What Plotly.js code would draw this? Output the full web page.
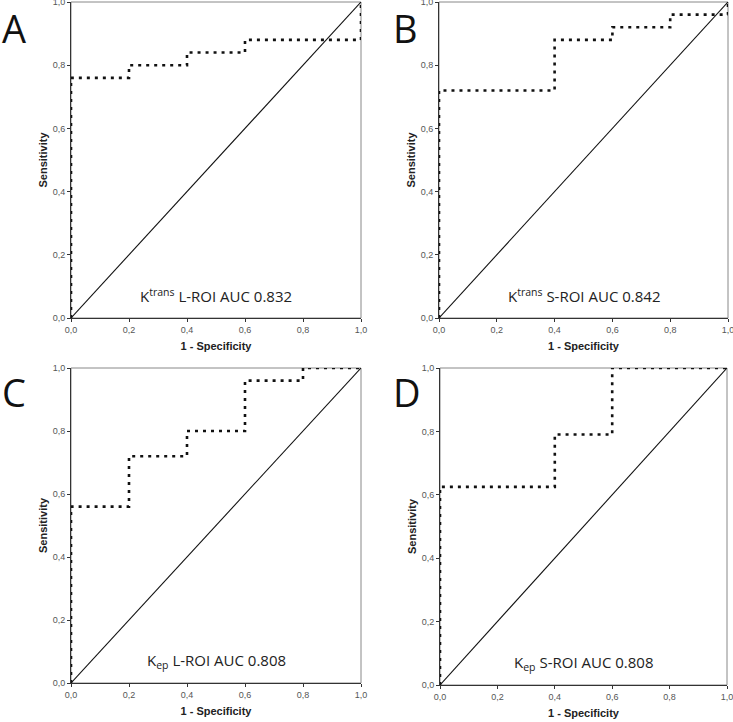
<!DOCTYPE html>
<html><head><meta charset="utf-8">
<script src="https://cdn.plot.ly/plotly-3.0.1.min.js"></script>
<style>html,body{margin:0;padding:0;background:#fff}#plot{width:733px;height:722px}</style>
</head><body><div id="plot"></div>
<script>
// ROC curve data (1 - specificity, sensitivity)
const rocA_x = [0, 0, 0.2, 0.2, 0.4, 0.4, 0.6, 0.6, 1.0, 1.0];
const rocA_y = [0, 0.76, 0.76, 0.80, 0.80, 0.84, 0.84, 0.88, 0.88, 1.0];
const rocB_x = [0, 0, 0.4, 0.4, 0.6, 0.6, 0.8, 0.8, 1.0, 1.0];
const rocB_y = [0, 0.72, 0.72, 0.88, 0.88, 0.92, 0.92, 0.96, 0.96, 1.0];
const rocC_x = [0, 0, 0.2, 0.2, 0.4, 0.4, 0.6, 0.6, 0.8, 0.8, 1.0];
const rocC_y = [0, 0.56, 0.56, 0.72, 0.72, 0.80, 0.80, 0.96, 0.96, 1.0, 1.0];
const rocD_x = [0, 0, 0.4, 0.4, 0.6, 0.6, 1.0];
const rocD_y = [0, 0.625, 0.625, 0.79, 0.79, 1.0, 1.0];
const refLine = [0, 1];
const panelLetters = ['A', 'B', 'C', 'D'];
const aucLabels = [
  'K<sup>trans</sup> L-ROI AUC 0.832',
  'K<sup>trans</sup> S-ROI AUC 0.842',
  'K<sub>ep</sub> L-ROI AUC 0.808',
  'K<sub>ep</sub> S-ROI AUC 0.808'
];
const tickVals = [0, 0.2, 0.4, 0.6, 0.8, 1.0];
const xTitle = '1 - Specificity';
const yTitle = 'Sensitivity';

const W = 733, H = 722;
const px = v => v / W, py = v => 1 - v / H;
const boxes = [
  {x0: 71, x1: 361, y0: 2, y1: 318},
  {x0: 439, x1: 728, y0: 2, y1: 318},
  {x0: 71, x1: 361, y0: 368, y1: 683},
  {x0: 440, x1: 727, y0: 368, y1: 685}
];
const rocs = [[rocA_x, rocA_y], [rocB_x, rocB_y], [rocC_x, rocC_y], [rocD_x, rocD_y]];

const data = [];
const layout = {
  width: W, height: H, margin: {l: 0, r: 0, t: 0, b: 0},
  paper_bgcolor: '#fff', plot_bgcolor: '#fff', showlegend: false,
  separators: ',.', shapes: [], annotations: []
};
rocs.forEach((r, i) => {
  const n = i === 0 ? '' : String(i + 1);
  const xa = 'x' + n, ya = 'y' + n;
  data.push({x: refLine, y: refLine, xaxis: xa, yaxis: ya, mode: 'lines', line: {color: '#111', width: 1.1}, hoverinfo: 'skip'});
  data.push({x: r[0], y: r[1], xaxis: xa, yaxis: ya, mode: 'lines', line: {color: '#111', width: 2.6, dash: '3px,5px'}, hoverinfo: 'skip'});
  const b = boxes[i];
  const axCommon = {
    range: [0, 1], tickvals: tickVals, tickformat: '.1f', showgrid: false, zeroline: false,
    showline: true, linecolor: '#333', linewidth: 1, ticks: 'outside', ticklen: 3, tickcolor: '#333',
    ticklabeloverflow: 'allow', automargin: false,
    tickfont: {family: 'Liberation Sans, Arial', size: 9, color: '#555'}, fixedrange: true
  };
  layout['xaxis' + n] = Object.assign({}, axCommon, {
    domain: [px(b.x0), px(b.x1)], anchor: ya,
    title: {text: '<b>' + xTitle + '</b>', font: {family: 'Liberation Sans, Arial', size: 11, color: '#222'}, standoff: 8}
  });
  layout['yaxis' + n] = Object.assign({}, axCommon, {
    domain: [py(b.y1), py(b.y0)], anchor: xa,
    title: {text: '<b>' + yTitle + '</b>', font: {family: 'Liberation Sans, Arial', size: 11, color: '#222'}, standoff: 2}
  });
  layout.shapes.push({type: 'rect', xref: xa + ' domain', yref: ya + ' domain', x0: 0, x1: 1, y0: 0, y1: 1, line: {color: '#888', width: 1}, layer: 'below'});
  layout.annotations.push({
    xref: xa + ' domain', yref: ya + ' domain', x: 0.5, y: 0.07, xanchor: 'center', yanchor: 'middle',
    text: aucLabels[i], showarrow: false, font: {family: 'Open Sans, Lato, sans-serif', size: 15, color: '#222'}
  });
  layout.annotations.push({
    xref: 'paper', yref: 'paper', x: px(i % 2 === 0 ? 0 : 391), y: py(i < 2 ? 0 : 364), xanchor: 'left', yanchor: 'top',
    text: panelLetters[i], showarrow: false, font: {family: 'Open Sans, Lato, sans-serif', size: 38, color: '#111'}
  });
});
Plotly.newPlot('plot', data, layout, {displayModeBar: false, staticPlot: true});
</script></body></html>
